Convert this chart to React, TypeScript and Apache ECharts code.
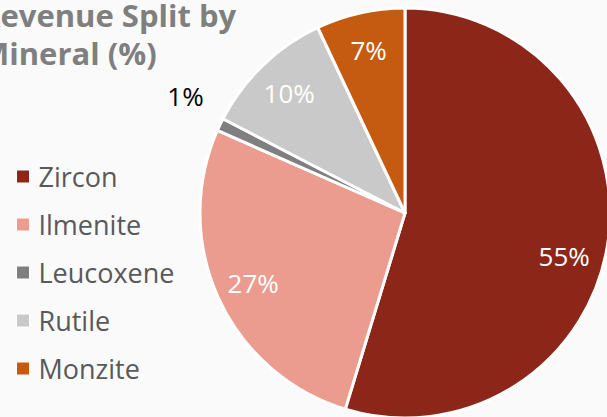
import React, { useEffect, useRef } from "react";
import * as echarts from "echarts";

const categories = ["Zircon", "Ilmenite", "Leucoxene", "Rutile", "Monzite"];
const shares = [54.7, 26.9, 1.0, 10.4, 7.0];
const colors = ["#8C2618", "#EC9C8F", "#7F7F7F", "#C9C9C9", "#C55A11"];
const titleLines = ["Revenue Split by", "Mineral (%)"];

const CX = 405;
const CY = 213;
const R = 205;
const FONT = "'Open Sans', 'Noto Sans', sans-serif";

export default function App() {
  const ref = useRef<HTMLDivElement>(null);
  useEffect(() => {
    if (!ref.current) return;
    const chart = echarts.init(ref.current, undefined, { renderer: "svg" });
    const fmt = (p: any) => Math.round(p.value) + "%";

    const mainData = categories.map((name, i) => ({
      name,
      value: shares[i],
      itemStyle: { color: colors[i] },
    }));

    const innerLabelData = categories.map((name, i) => ({
      name,
      value: shares[i],
      label:
        name === "Leucoxene"
          ? { show: false }
          : name === "Zircon"
          ? { show: true, offset: [-6, 18] }
          : { show: true },
    }));

    const outerLabelData = categories.map((name, i) => ({
      name,
      value: shares[i],
      label:
        name === "Leucoxene"
          ? { show: true, offset: [7, -9] }
          : { show: false },
    }));

    chart.setOption({
      animation: false,
      backgroundColor: "#fafafa",
      legend: {
        orient: "vertical",
        left: 16,
        top: 163,
        padding: 0,
        itemWidth: 13,
        itemHeight: 13,
        itemGap: 21,
        icon: "rect",
        data: categories,
        itemStyle: { borderColor: "#ffffff", borderWidth: 1 },
        textStyle: {
          fontFamily: FONT,
          fontSize: 27,
          lineHeight: 27,
          color: "#595959",
          padding: [0, 0, 0, 4],
        },
      },
      graphic: [
        {
          type: "text",
          left: -20,
          top: -4,
          style: {
            text: titleLines.join("\n"),
            font: `bold 31px ${FONT}`,
            fill: "#7F7F7F",
            lineHeight: 38,
            align: "left",
          },
        },
      ],
      series: [
        {
          type: "pie",
          name: "main",
          center: [CX, CY],
          radius: [0, R],
          startAngle: 90,
          clockwise: true,
          avoidLabelOverlap: false,
          silent: true,
          label: { show: false },
          labelLine: { show: false },
          itemStyle: { borderColor: "#ffffff", borderWidth: 3 },
          emphasis: { disabled: true },
          data: mainData,
        },
        {
          type: "pie",
          name: "labels",
          center: [CX, CY],
          radius: [R * 0.6, R],
          startAngle: 90,
          clockwise: true,
          avoidLabelOverlap: false,
          silent: true,
          itemStyle: { color: "rgba(0,0,0,0)", borderWidth: 0 },
          label: {
            show: true,
            position: "inside",
            formatter: fmt,
            color: "#ffffff",
            fontFamily: FONT,
            fontSize: 26,
          },
          labelLine: { show: false },
          emphasis: { disabled: true },
          data: innerLabelData,
        },
        {
          type: "pie",
          name: "outerLabels",
          center: [CX, CY],
          radius: [R * 1.1, R * 1.32],
          startAngle: 90,
          clockwise: true,
          avoidLabelOverlap: false,
          silent: true,
          itemStyle: { color: "rgba(0,0,0,0)", borderWidth: 0 },
          label: {
            show: false,
            position: "inside",
            formatter: fmt,
            color: "#000000",
            fontFamily: FONT,
            fontSize: 26,
          },
          labelLine: { show: false },
          emphasis: { disabled: true },
          data: outerLabelData,
        },
      ],
    });
    return () => chart.dispose();
  }, []);

  return (
    <div
      ref={ref}
      style={{ position: "fixed", left: 0, top: 0, width: 607, height: 417 }}
    />
  );
}
